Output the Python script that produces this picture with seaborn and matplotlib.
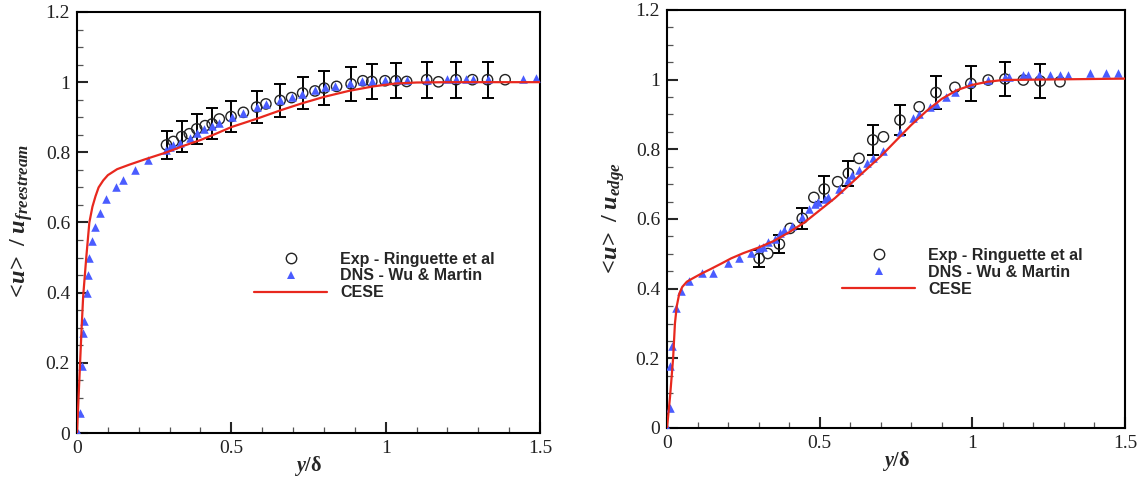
import numpy as np
import seaborn as sns
import matplotlib.pyplot as plt
from matplotlib.lines import Line2D
from matplotlib.ticker import MultipleLocator, FuncFormatter

# ---- left panel: <u>/u_freestream ----
cese_l_x = [0, 0.005, 0.01, 0.015, 0.02, 0.03, 0.04, 0.05, 0.06, 0.07, 0.085, 0.1, 0.13,
            0.17, 0.22, 0.29, 0.35, 0.4, 0.45, 0.5, 0.58, 0.66, 0.73, 0.8, 0.88, 0.96,
            1.03, 1.1, 1.2, 1.35, 1.5]
cese_l_y = [0, 0.1, 0.2, 0.3, 0.39, 0.5, 0.6, 0.645, 0.675, 0.7, 0.72, 0.735, 0.752,
            0.765, 0.78, 0.80, 0.82, 0.835, 0.853, 0.872, 0.895, 0.92, 0.94, 0.958, 0.975,
            0.988, 0.996, 0.999, 1.0, 1.0, 1.0]

dns_l_x = [0.004, 0.01, 0.015, 0.018, 0.024, 0.031, 0.035, 0.04, 0.048, 0.058, 0.075,
           0.093, 0.125, 0.148, 0.188, 0.231, 0.287, 0.3, 0.312, 0.334, 0.366, 0.388,
           0.411, 0.438, 0.46, 0.501, 0.539, 0.582, 0.612, 0.658, 0.695, 0.728, 0.771,
           0.803, 0.836, 0.884, 0.922, 0.955, 0.998, 1.036, 1.068, 1.133, 1.198, 1.228,
           1.26, 1.284, 1.33, 1.446, 1.487]
dns_l_y = [0.0, 0.056, 0.19, 0.284, 0.32, 0.40, 0.45, 0.50, 0.546, 0.587, 0.628,
           0.667, 0.70, 0.721, 0.75, 0.777, 0.807, 0.815, 0.821, 0.828, 0.84, 0.855,
           0.866, 0.875, 0.883, 0.902, 0.912, 0.928, 0.937, 0.95, 0.959, 0.966, 0.978,
           0.986, 0.99, 0.997, 1.002, 1.002, 1.007, 1.007, 1.007, 1.007, 1.009, 1.009,
           1.009, 1.009, 1.009, 1.009, 1.011]

exp_l_x = [0.29, 0.312, 0.339, 0.364, 0.388, 0.415, 0.438, 0.461, 0.499, 0.539, 0.582,
           0.612, 0.658, 0.695, 0.731, 0.771, 0.801, 0.841, 0.888, 0.926, 0.955, 0.998,
           1.033, 1.068, 1.133, 1.171, 1.228, 1.281, 1.33, 1.387]
exp_l_y = [0.821, 0.831, 0.845, 0.853, 0.867, 0.876, 0.881, 0.895, 0.902, 0.914, 0.929,
           0.938, 0.948, 0.956, 0.969, 0.975, 0.983, 0.988, 0.995, 1.004, 1.002, 1.004,
           1.004, 1.002, 1.007, 1.001, 1.007, 1.007, 1.007, 1.007]
# error half-width, 0 = no bar drawn
exp_l_err = [0.04, 0, 0.043, 0, 0.042, 0, 0.044, 0, 0.045, 0, 0.045,
             0, 0.047, 0, 0.046, 0, 0.049, 0, 0.048, 0, 0.05, 0,
             0.05, 0, 0.051, 0, 0.051, 0, 0.051, 0]

# ---- right panel: <u>/u_edge ----
cese_r_x = [0, 0.01, 0.02, 0.026, 0.032, 0.04, 0.05, 0.065, 0.085, 0.11, 0.14, 0.18,
            0.21, 0.25, 0.3, 0.35, 0.4, 0.45, 0.5, 0.55, 0.6, 0.65, 0.7, 0.75, 0.8, 0.85,
            0.9, 0.95, 1.0, 1.05, 1.1, 1.2, 1.3, 1.5]
cese_r_y = [0, 0.09, 0.2, 0.3, 0.35, 0.385, 0.405, 0.42, 0.43, 0.442, 0.455, 0.473,
            0.487, 0.502, 0.518, 0.537, 0.562, 0.59, 0.625, 0.66, 0.70, 0.74, 0.78, 0.825,
            0.87, 0.91, 0.945, 0.97, 0.985, 0.994, 0.999, 1.0, 1.001, 1.003]

dns_r_x = [0.0, 0.01, 0.01, 0.015, 0.028, 0.045, 0.073, 0.114, 0.152, 0.201, 0.236,
           0.275, 0.302, 0.316, 0.332, 0.354, 0.37, 0.383, 0.408, 0.443, 0.466, 0.485,
           0.496, 0.517, 0.528, 0.564, 0.594, 0.605, 0.629, 0.656, 0.674, 0.709, 0.763,
           0.807, 0.826, 0.861, 0.881, 0.914, 0.943, 0.992, 1.052, 1.107, 1.121, 1.167,
           1.183, 1.219, 1.254, 1.287, 1.314, 1.385, 1.438, 1.478]
dns_r_y = [0.0, 0.056, 0.178, 0.235, 0.345, 0.393, 0.422, 0.444, 0.446, 0.473, 0.487,
           0.501, 0.516, 0.521, 0.535, 0.542, 0.559, 0.568, 0.58, 0.605, 0.628, 0.642,
           0.65, 0.657, 0.664, 0.685, 0.712, 0.726, 0.741, 0.762, 0.774, 0.796, 0.851,
           0.891, 0.9, 0.922, 0.93, 0.949, 0.966, 0.989, 0.999, 1.007, 1.009, 1.013,
           1.013, 1.013, 1.013, 1.013, 1.013, 1.019, 1.019, 1.019]

exp_r_x = [0.302, 0.33, 0.368, 0.403, 0.443, 0.481, 0.515, 0.559, 0.594, 0.629, 0.674,
           0.709, 0.763, 0.826, 0.881, 0.943, 0.995, 1.052, 1.107, 1.167, 1.222, 1.287]
exp_r_y = [0.487, 0.501, 0.528, 0.573, 0.602, 0.662, 0.686, 0.707, 0.731, 0.774, 0.827,
           0.836, 0.884, 0.922, 0.963, 0.978, 0.989, 0.999, 1.002, 0.999, 0.996, 0.994]
exp_r_err = [0.024, 0, 0.025, 0, 0.03, 0, 0.037, 0, 0.036, 0, 0.042,
             0, 0.043, 0, 0.047, 0, 0.049, 0, 0.05, 0, 0.05, 0]

labels = ["Exp - Ringuette et al", "DNS - Wu & Martin", "CESE"]
blue = "#4a5cff"
red = "#e8281e"

sns.set_style("ticks")
plt.rcParams['font.family'] = ['Liberation Serif', 'DejaVu Serif']
plt.rcParams['mathtext.fontset'] = 'custom'
plt.rcParams['mathtext.rm'] = 'Liberation Serif'
plt.rcParams['mathtext.it'] = 'Liberation Serif:italic'
plt.rcParams['mathtext.bf'] = 'Liberation Serif:bold'
plt.rcParams['mathtext.bfit'] = 'Liberation Serif:bold:italic'

fig = plt.figure(figsize=(11.44, 4.78), dpi=100)
ax_l = fig.add_axes([77 / 1144, 1 - 433 / 478, 463 / 1144, 421 / 478])
ax_r = fig.add_axes([667 / 1144, 1 - 428 / 478, 458 / 1144, 418 / 478])


def draw_panel(ax, cx, cy, dx, dy, ex, ey, eerr, ylabel, label_x):
    ex = np.array(ex)
    ey = np.array(ey)
    eerr = np.array(eerr)
    has = eerr > 0
    ax.errorbar(ex[has], ey[has], yerr=eerr[has], fmt='none', ecolor='black',
                elinewidth=1.4, capsize=4, capthick=1.4, zorder=2)
    sns.scatterplot(x=ex, y=ey, ax=ax, marker='o', s=55, facecolor='none',
                    edgecolor='#222222', linewidth=1.0, zorder=3)
    sns.scatterplot(x=dx, y=dy, ax=ax, marker='^', s=38, color=blue,
                    edgecolor=blue, linewidth=0, zorder=4)
    sns.lineplot(x=cx, y=cy, ax=ax, sort=False, color=red, linewidth=1.6,
                 estimator=None, zorder=5)

    ax.set_xlim(0, 1.5)
    ax.set_ylim(0, 1.2)
    ax.xaxis.set_major_locator(MultipleLocator(0.5))
    ax.xaxis.set_minor_locator(MultipleLocator(0.1))
    ax.yaxis.set_major_locator(MultipleLocator(0.2))
    ax.yaxis.set_minor_locator(MultipleLocator(0.05))
    fmt = FuncFormatter(lambda v, p: "%g" % round(v, 2))
    ax.xaxis.set_major_formatter(fmt)
    ax.yaxis.set_major_formatter(fmt)
    ax.tick_params(which='both', direction='in', top=False, right=False,
                   labelsize=14, labelcolor='#222222', pad=5)
    ax.tick_params(which='major', length=8, width=1.5)
    ax.tick_params(which='minor', length=4.5, width=0.9, color='#555555')
    for s in ax.spines.values():
        s.set_linewidth(1.5)
        s.set_color('black')

    ax.set_xlabel(r'$\mathbfit{y}\mathbf{/\delta}$', fontsize=14.5, labelpad=-2)
    ax.set_ylabel(ylabel, fontsize=17.5)
    ax.yaxis.set_label_coords(label_x, 0.5)

    handles = [
        Line2D([], [], linestyle='none', marker='o', markersize=7.5,
               markerfacecolor='none', markeredgecolor='#222222', markeredgewidth=1.0),
        Line2D([], [], linestyle='none', marker='^', markersize=6,
               color=blue, markeredgewidth=0),
        Line2D([], [], color=red, linewidth=1.6),
    ]
    ax.legend(handles, labels, loc='center left', bbox_to_anchor=(0.382, 0.373),
              frameon=False, borderpad=0, borderaxespad=0, numpoints=1,
              handlelength=4.6, handletextpad=0.8, labelspacing=0.12,
              prop={'family': 'Liberation Sans', 'weight': 'bold', 'size': 11.5})


draw_panel(ax_l, cese_l_x, cese_l_y, dns_l_x, dns_l_y, exp_l_x, exp_l_y, exp_l_err,
           r'$\mathbf{<}\!\mathbfit{u}\!\mathbf{>\ /\ }\mathbfit{u}_{\mathbfit{freestream}}$',
           -0.091)
draw_panel(ax_r, cese_r_x, cese_r_y, dns_r_x, dns_r_y, exp_r_x, exp_r_y, exp_r_err,
           r'$\mathbf{<}\!\mathbfit{u}\!\mathbf{>\ /\ }\mathbfit{u}_{\mathbfit{edge}}$',
           -0.087)

fig.savefig("out.png", dpi=100)
